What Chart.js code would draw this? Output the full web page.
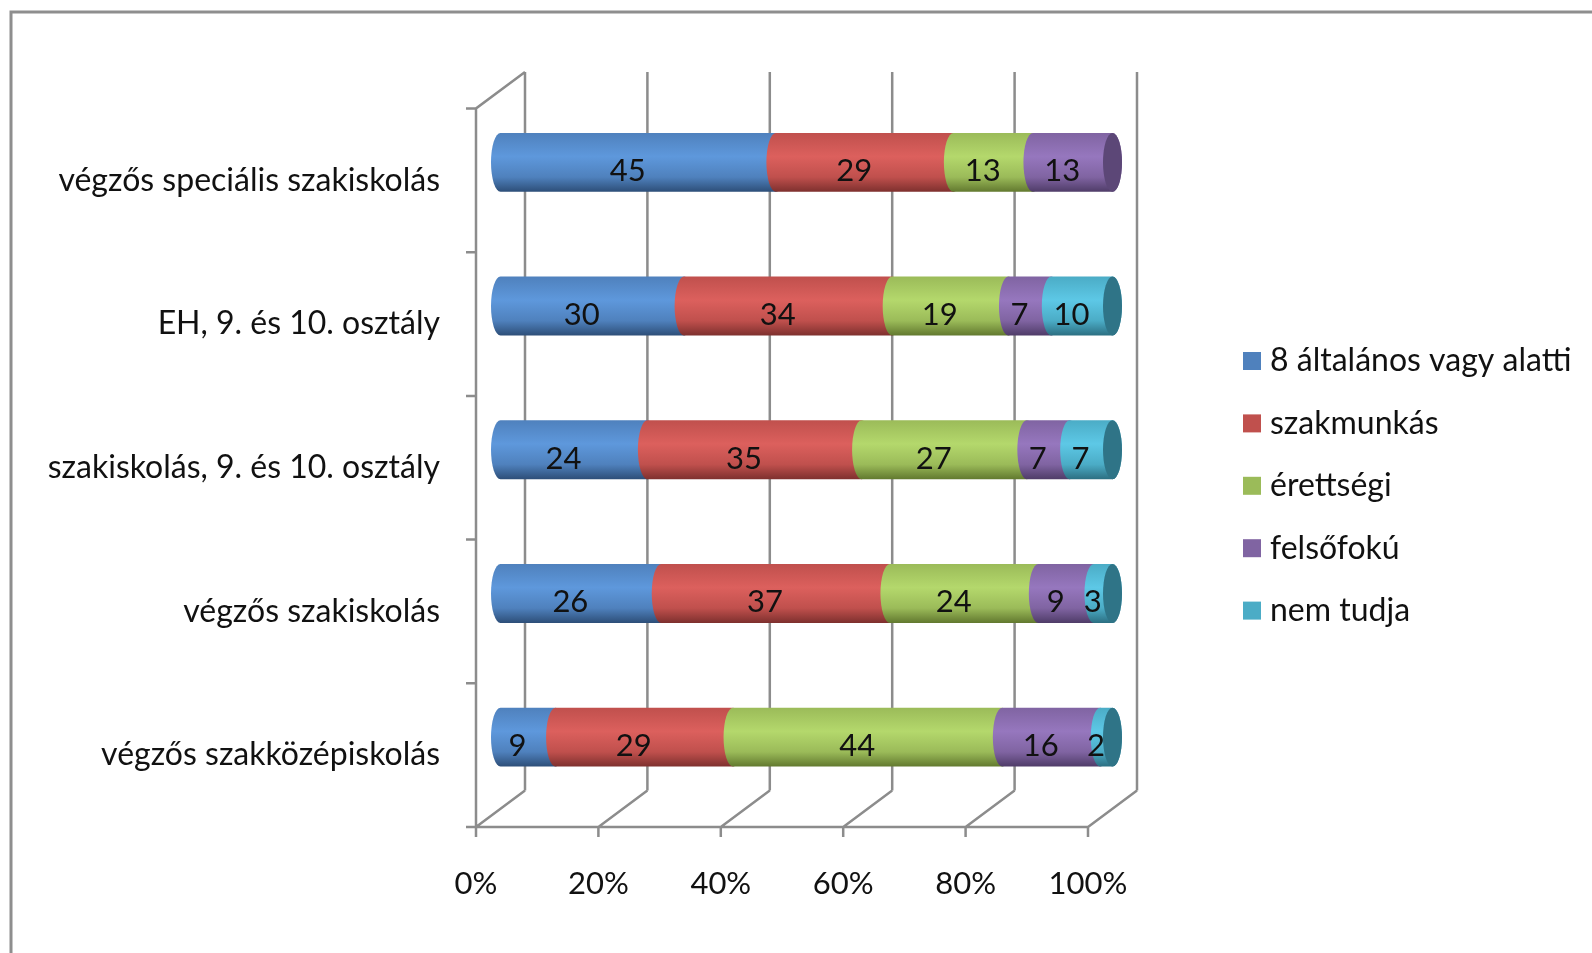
<!DOCTYPE html>
<html>
<head>
<meta charset="utf-8">
<script src="https://cdn.jsdelivr.net/npm/chart.js@4.4.1/dist/chart.umd.min.js"></script>
<style>
html, body { margin: 0; padding: 0; background: #fff; }
#wrap { width: 1592px; height: 953px; }
</style>
</head>
<body>
<div id="wrap"><canvas id="chart" width="1592" height="953"></canvas></div>
<script>
var categories = ['végzős speciális szakiskolás', 'EH, 9. és 10. osztály', 'szakiskolás, 9. és 10. osztály', 'végzős szakiskolás', 'végzős szakközépiskolás'];
var seriesNames = ['8 általános vagy alatti', 'szakmunkás', 'érettségi', 'felsőfokú', 'nem tudja'];
var alapfoku = [45, 30, 24, 26, 9];
var szakmunkas = [29, 34, 35, 37, 29];
var erettsegi = [13, 19, 27, 24, 44];
var felsofoku = [13, 7, 7, 9, 16];
var nemTudja = [0, 10, 7, 3, 2];
var tickLabels = ['0%', '20%', '40%', '60%', '80%', '100%'];

// base, light, dark, end face
var palette = [
	['#4f81bd', '#5e98dc', '#2d4e78', '#3d6698'],
	['#c0504d', '#dc605d', '#7e302e', '#9a3f3c'],
	['#9bbb59', '#b4d86c', '#62792f', '#7c9a43'],
	['#8064a2', '#9677be', '#4f3c68', '#5c4777'],
	['#4bacc6', '#5dc8e6', '#2c6f82', '#2f7487']
];

var FONT = 'Lato, "Open Sans", sans-serif';
var FONT_SIZE = 31;
var DEPTH_X = 49, DEPTH_Y = -36.5;
var BAR_DX = 24.5, BAR_DY = -18;
var CAP_RX = 9.5;

var rawSeries = [alapfoku, szakmunkas, erettsegi, felsofoku, nemTudja];
var rowTotals = categories.map(function(c, i) {
	var s = 0;
	rawSeries.forEach(function(arr) { s += arr[i]; });
	return s;
});

var datasets = rawSeries.map(function(arr, k) {
	return {
		label: seriesNames[k],
		data: arr.map(function(v, i) { return v / rowTotals[i] * 100; }),
		raw: arr,
		backgroundColor: palette[k][0],
		barPercentage: 0.41,
		categoryPercentage: 1
	};
});

function cylinderPath(ctx, x0, x1, top, bottom) {
	var cy = (top + bottom) / 2, ry = (bottom - top) / 2;
	ctx.beginPath();
	ctx.ellipse(x0, cy, CAP_RX, ry, 0, -Math.PI / 2, Math.PI / 2, true);
	ctx.lineTo(x1, bottom);
	ctx.ellipse(x1, cy, CAP_RX, ry, 0, Math.PI / 2, -Math.PI / 2, true);
	ctx.closePath();
}

var frame3d = {
	id: 'frame3d',
	beforeDraw: function(chart) {
		var ctx = chart.ctx;
		ctx.save();
		ctx.strokeStyle = '#8e8e8e';
		ctx.lineWidth = 3;
		ctx.beginPath();
		ctx.moveTo(11, 960);
		ctx.lineTo(11, 12);
		ctx.lineTo(1600, 12);
		ctx.stroke();
		ctx.restore();
	},
	beforeDatasetsDraw: function(chart) {
		var ctx = chart.ctx, xs = chart.scales.x, ys = chart.scales.y, a = chart.chartArea;
		ctx.save();
		ctx.strokeStyle = '#8c8c8c';
		ctx.lineWidth = 2.5;
		ctx.beginPath();
		xs.ticks.forEach(function(t) {
			var px = xs.getPixelForValue(t.value);
			// back wall gridline
			ctx.moveTo(px + DEPTH_X, a.top + DEPTH_Y);
			ctx.lineTo(px + DEPTH_X, a.bottom + DEPTH_Y);
			// floor diagonal
			ctx.moveTo(px, a.bottom);
			ctx.lineTo(px + DEPTH_X, a.bottom + DEPTH_Y);
			// tick mark
			ctx.moveTo(px, a.bottom);
			ctx.lineTo(px, a.bottom + 10);
		});
		// front axis line
		ctx.moveTo(a.left - 10, a.bottom);
		ctx.lineTo(a.right, a.bottom);
		// left wall
		ctx.moveTo(a.left, a.bottom);
		ctx.lineTo(a.left, a.top);
		ctx.lineTo(a.left + DEPTH_X, a.top + DEPTH_Y);
		for (var i = 0; i < categories.length; i++) {
			var py = ys.getPixelForValue(i - 0.5);
			ctx.moveTo(a.left - 10, py);
			ctx.lineTo(a.left, py);
		}
		ctx.stroke();

		// cylinders
		ctx.translate(BAR_DX, BAR_DY);
		var metas = chart.data.datasets.map(function(d, k) { return chart.getDatasetMeta(k); });
		for (var c = 0; c < categories.length; c++) {
			var last = null;
			for (var k = 0; k < metas.length; k++) {
				var el = metas[k].data[c];
				if (!chart.data.datasets[k].raw[c]) continue;
				var x0 = el.base, x1 = el.x, top = el.y - el.height / 2, bottom = el.y + el.height / 2;
				var g = ctx.createLinearGradient(0, top, 0, bottom);
				g.addColorStop(0, palette[k][0]);
				g.addColorStop(0.4, palette[k][1]);
				g.addColorStop(0.75, palette[k][0]);
				g.addColorStop(1, palette[k][2]);
				cylinderPath(ctx, x0, x1, top, bottom);
				ctx.fillStyle = g;
				ctx.fill();
				last = { k: k, x1: x1, cy: el.y, ry: el.height / 2 };
			}
			if (last) {
				ctx.beginPath();
				ctx.ellipse(last.x1, last.cy, CAP_RX, last.ry, 0, 0, Math.PI * 2);
				ctx.fillStyle = palette[last.k][3];
				ctx.fill();
			}
		}
		ctx.restore();
		return false;
	},
	afterDraw: function(chart) {
		var ctx = chart.ctx;
		ctx.save();
		ctx.font = FONT_SIZE + 'px ' + FONT;
		ctx.fillStyle = '#111';
		ctx.textAlign = 'center';
		ctx.textBaseline = 'middle';
		chart.data.datasets.forEach(function(ds, k) {
			var meta = chart.getDatasetMeta(k);
			meta.data.forEach(function(el, c) {
				if (!ds.raw[c]) return;
				ctx.fillText(String(ds.raw[c]), (el.base + el.x) / 2 + 14, el.y - 9);
			});
		});
		// legend
		ctx.font = '32px ' + FONT;
		ctx.textAlign = 'left';
		chart.data.datasets.forEach(function(ds, k) {
			var cy = 361 + k * 62.4;
			ctx.fillStyle = palette[k][0];
			ctx.fillRect(1243, cy - 9, 18, 18);
			ctx.fillStyle = '#111';
			ctx.fillText(ds.label, 1270, cy);
		});
		ctx.restore();
	}
};

new Chart(document.getElementById('chart'), {
	type: 'bar',
	data: { labels: categories, datasets: datasets },
	options: {
		indexAxis: 'y',
		responsive: false,
		animation: false,
		layout: { padding: { left: 0, top: 108.5, right: 504, bottom: 0 } },
		plugins: { legend: { display: false }, tooltip: { enabled: false } },
		scales: {
			x: {
				stacked: true, min: 0, max: 100,
				grid: { display: false, drawTicks: false },
				border: { display: false },
				ticks: {
					stepSize: 20, padding: 38, color: '#111',
					font: { family: FONT, size: FONT_SIZE },
					callback: function(v, i) { return tickLabels[i]; }
				},
				afterFit: function(s) { s.height = 953 - 827; }
			},
			y: {
				stacked: true,
				grid: { display: false, drawTicks: false },
				border: { display: false },
				ticks: { padding: 36, color: '#111', font: { family: FONT, size: 32, lineHeight: 1.4 } },
				afterFit: function(s) { s.width = 476; }
			}
		}
	},
	plugins: [frame3d]
});
</script>
</body>
</html>
